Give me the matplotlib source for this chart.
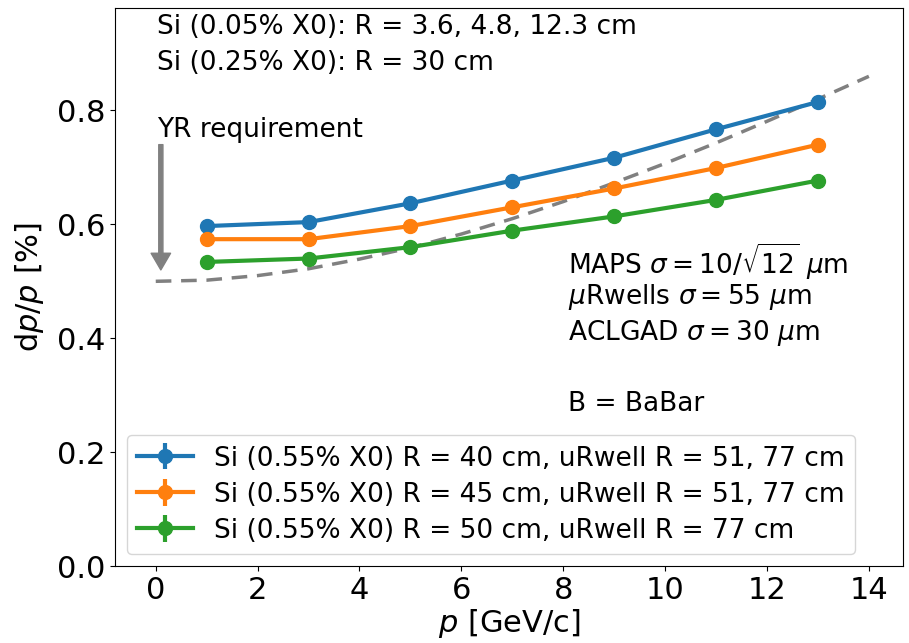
import matplotlib
matplotlib.use("Agg")
import matplotlib.pyplot as plt

# Data
p = [1, 3, 5, 7, 9, 11, 13]
res_40 = [0.597, 0.604, 0.637, 0.677, 0.717, 0.767, 0.815]
res_45 = [0.574, 0.574, 0.597, 0.630, 0.663, 0.699, 0.740]
res_50 = [0.534, 0.540, 0.560, 0.589, 0.614, 0.643, 0.677]
err_40 = [0.003] * 7
err_45 = [0.003] * 7
err_50 = [0.003] * 7

labels = [
    "Si (0.55% X0) R = 40 cm, uRwell R = 51, 77 cm",
    "Si (0.55% X0) R = 45 cm, uRwell R = 51, 77 cm",
    "Si (0.55% X0) R = 50 cm, uRwell R = 77 cm",
]

# YR requirement curve
p_req = [0, 1, 2, 3, 4, 5, 6, 7, 8, 9, 10, 11, 12, 13, 14]
res_req = [0.500, 0.502, 0.510, 0.522, 0.539, 0.559, 0.583, 0.610,
           0.640, 0.673, 0.707, 0.743, 0.781, 0.820, 0.860]

xticks = [0, 2, 4, 6, 8, 10, 12, 14]
yticks = [0.0, 0.2, 0.4, 0.6, 0.8]

TXT = 19

fig = plt.figure(figsize=(9.09, 6.43), dpi=100)
ax = fig.add_axes([115 / 909, 1 - 566 / 643, (903 - 115) / 909, (566 - 8) / 643])

colors = ["#1f77b4", "#ff7f0e", "#2ca02c"]
for y, e, c, lab in zip([res_40, res_45, res_50], [err_40, err_45, err_50], colors, labels):
    ax.errorbar(p, y, yerr=e, marker="o", ms=10, lw=3, color=c, label=lab)

ax.plot(p_req, res_req, linestyle="--", color="grey", lw=2.5, dashes=(4.5, 2.8))

ax.annotate("", xy=(0.1, 0.52), xytext=(0.1, 0.74),
            arrowprops=dict(facecolor="grey", edgecolor="grey", width=3,
                            headwidth=14, headlength=12, shrink=0))
ax.text(0.02, 0.765, "YR requirement", fontsize=TXT, va="center", ha="left")

ax.text(0.02, 0.946, "Si (0.05% X0): R = 3.6, 4.8, 12.3 cm", fontsize=TXT, va="center")
ax.text(0.02, 0.884, "Si (0.25% X0): R = 30 cm", fontsize=TXT, va="center")

ax.text(8.1, 0.535, r"MAPS $\sigma = 10/\sqrt{12}\ \mu$m", fontsize=TXT, va="center")
ax.text(8.1, 0.472, r"$\mu$Rwells $\sigma = 55\ \mu$m", fontsize=TXT, va="center")
ax.text(8.1, 0.409, r"ACLGAD $\sigma = 30\ \mu$m", fontsize=TXT, va="center")
ax.text(8.1, 0.285, "B = BaBar", fontsize=TXT, va="center")

ax.set_xlim(-0.8, 14.67)
ax.set_ylim(0, 0.98)
ax.set_xticks(xticks)
ax.set_yticks(yticks)
ax.set_yticklabels([f"{v:.1f}" for v in yticks])
ax.tick_params(labelsize=22)
ax.set_xlabel(r"$p$ [GeV/c]", fontsize=22, labelpad=2)
ax.set_ylabel(r"d$p$/$p$ [%]", fontsize=22, labelpad=8)

ax.legend(loc="lower left", fontsize=TXT, labelspacing=0.38, borderaxespad=0.45,
          handlelength=2.1)

fig.savefig("out.png", dpi=100)
